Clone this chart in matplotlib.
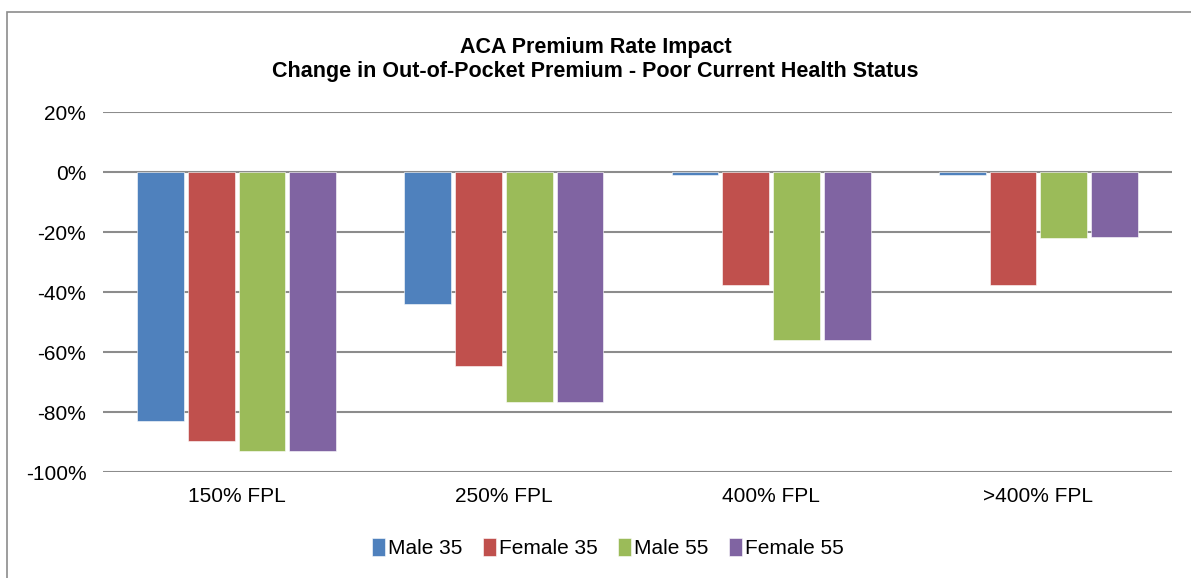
import numpy as np
import matplotlib
matplotlib.use("Agg")
import matplotlib.pyplot as plt
from matplotlib.patches import Rectangle

plt.rcParams['font.family'] = ['Liberation Sans', 'DejaVu Sans']

# Data (percent change)
categories = ['150% FPL', '250% FPL', '400% FPL', '>400% FPL']
series_names = ['Male 35', 'Female 35', 'Male 55', 'Female 55']
male35 = [-83, -44, -1, -1]
female35 = [-89.5, -64.5, -37.5, -37.5]
male55 = [-93, -76.5, -56, -22]
female55 = [-93, -76.5, -56, -21.5]
colors = ['#4F81BD', '#C0504D', '#9BBB59', '#8064A2']
yticks = [20, 0, -20, -40, -60, -80, -100]

fig = plt.figure(figsize=(11.91, 5.78), dpi=100)

# outer chart border
fig.patches.append(Rectangle((7 / 1191, -0.01), 1.1, 1 - 12 / 578 + 0.01,
                             transform=fig.transFigure, fill=False,
                             edgecolor='#8c8c8c', linewidth=1.2))

ax = fig.add_axes([103 / 1191, 106 / 578, 1069 / 1191, 360 / 578])

x = np.arange(len(categories))
slot = 0.19
width = 0.175
all_series = [male35, female35, male55, female55]
for i, (vals, name, col) in enumerate(zip(all_series, series_names, colors)):
    ax.bar(x + (i - 1.5) * slot, vals, width, color=col, label=name,
           zorder=3, edgecolor='white', linewidth=0.4)

ax.set_xlim(-0.5, len(categories) - 0.5)
ax.set_ylim(-100, 20)
ax.set_yticks(yticks)
ax.set_yticklabels([f'{v}%' for v in yticks], fontsize=15)
ax.set_xticks(x)
ax.set_xticklabels(categories, fontsize=15)
ax.tick_params(length=0)
ax.tick_params(axis='x', pad=11)
ax.tick_params(axis='y', pad=12)
ax.grid(axis='y', color='#8c8c8c', linewidth=1.5, zorder=0)
for s in ax.spines.values():
    s.set_visible(False)

fig.text(0.5, 1 - 47 / 578, 'ACA Premium Rate Impact', ha='center', va='center',
         fontsize=15.5, fontweight='bold')
fig.text(0.5, 1 - 72 / 578, 'Change in Out-of-Pocket Premium - Poor Current Health Status',
         ha='center', va='center', fontsize=15.5, fontweight='bold')

ax.legend(loc='center', bbox_to_anchor=(608 / 1191, 1 - 548 / 578),
          bbox_transform=fig.transFigure, ncol=4, frameon=False, fontsize=15,
          handlelength=0.6, handleheight=1.0, handletextpad=0.15, columnspacing=1.0)

fig.savefig('out.png', dpi=100)
